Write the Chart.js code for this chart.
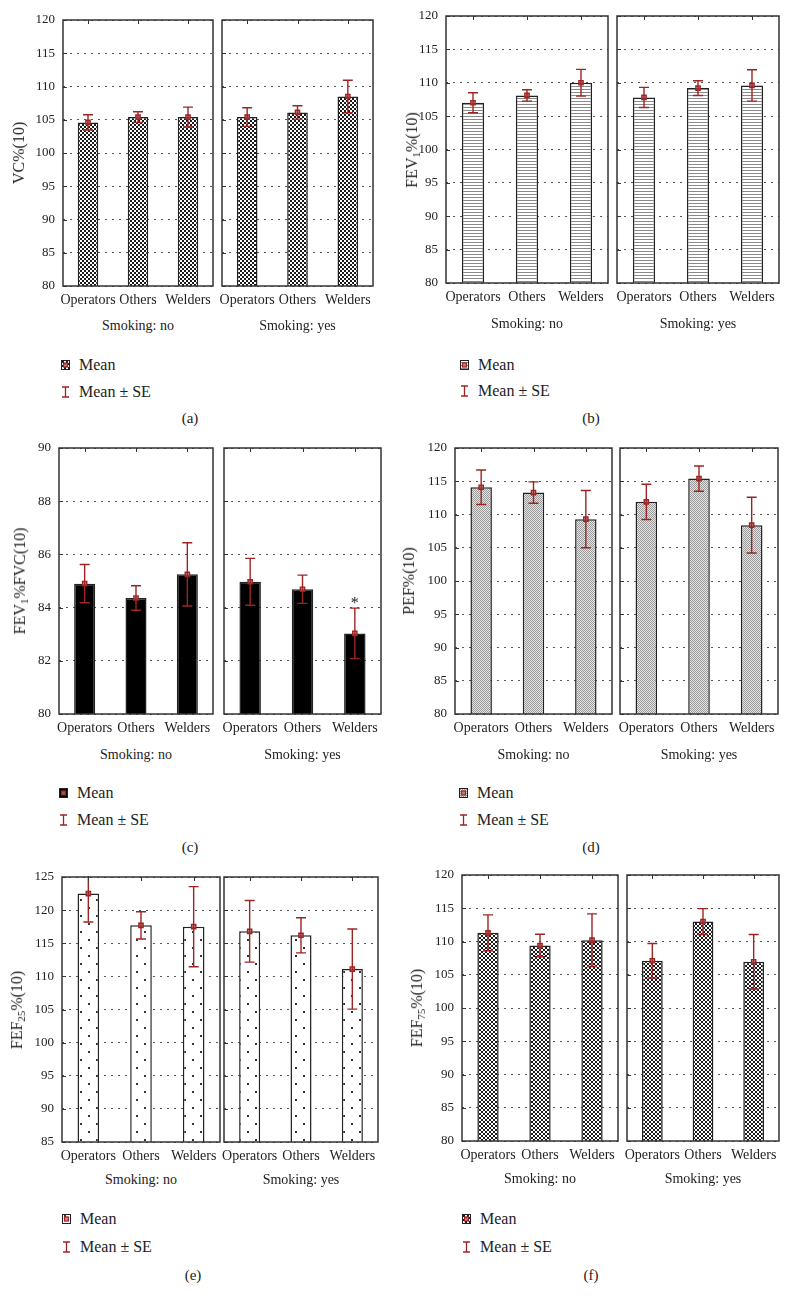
<!DOCTYPE html>
<html>
<head>
<meta charset="utf-8">
<script src="https://cdn.jsdelivr.net/npm/chart.js@4.4.1/dist/chart.umd.min.js"></script>
<style>
body { margin: 0; background: #fff; width: 793px; height: 1307px; position: relative; overflow: hidden;
       font-family: 'Liberation Serif', 'DejaVu Serif', serif; color: #222; }
canvas { position: absolute; }
.c { position: absolute; transform: translate(-50%, -50%); white-space: nowrap; font-size: 14px; }
.yt { position: absolute; transform: translate(-50%, -50%) rotate(-90deg); white-space: nowrap; font-size: 16px; }
.leg { position: absolute; transform: translateY(-50%); white-space: nowrap; font-size: 16px; }
.cap { position: absolute; transform: translate(-50%, -50%); font-size: 15px; }
sub { font-size: 0.68em; vertical-align: -0.3em; line-height: 0; }
</style>
</head>
<body>
<script>
// categories
const groups = ['Operators', 'Others', 'Welders'];

// (a) VC%
const vcNoMean = [104.6, 105.4, 105.4];
const vcNoSe = [1.15, 0.8, 1.5];
const vcYesMean = [105.4, 106.1, 108.5];
const vcYesSe = [1.4, 1.0, 2.45];

// (b) FEV1%
const fevNoMean = [107.0, 108.1, 110.0];
const fevNoSe = [1.5, 0.85, 2.0];
const fevYesMean = [107.8, 109.2, 109.6];
const fevYesSe = [1.5, 1.1, 2.35];

// (c) FEV1%FVC
const ratioNoMean = [84.9, 84.36, 85.25];
const ratioNoSe = [0.72, 0.46, 1.19];
const ratioYesMean = [84.97, 84.69, 83.03];
const ratioYesSe = [0.88, 0.53, 0.95];
const ratioYesMarks = ['', '', '*'];

// (d) PEF%
const pefNoMean = [114.1, 113.3, 109.3];
const pefNoSe = [2.6, 1.6, 4.3];
const pefYesMean = [111.9, 115.4, 108.4];
const pefYesSe = [2.65, 1.9, 4.2];

// (e) FEF25%
const fef25NoMean = [122.5, 117.7, 117.5];
const fef25NoSe = [4.3, 2.05, 6.05];
const fef25YesMean = [116.8, 116.2, 111.1];
const fef25YesSe = [4.65, 2.65, 6.05];

// (f) FEF75%
const fef75NoMean = [111.3, 109.4, 110.2];
const fef75NoSe = [2.7, 1.7, 3.95];
const fef75YesMean = [107.1, 113.0, 106.95];
const fef75YesSe = [2.6, 1.95, 4.1];

// axis ranges per panel
const yMins = [80, 80, 80, 80, 85, 80];
const yMaxes = [120, 120, 90, 120, 125, 120];
const ySteps = [5, 5, 2, 5, 5, 5];

const panelLabels = ['(a)', '(b)', '(c)', '(d)', '(e)', '(f)'];
const yTitles = ['VC%(10)', 'FEV<sub>1</sub>%(10)', 'FEV<sub>1</sub>%FVC(10)', 'PEF%(10)',
                 'FEF<sub>25</sub>%(10)', 'FEF<sub>75</sub>%(10)'];
const sideLabels = ['Smoking: no', 'Smoking: yes'];
const legendLabels = ['Mean', 'Mean \u00b1 SE'];

const RED = '#9e2424';
const FONT = "'Liberation Serif', 'DejaVu Serif', serif";
const PAD = 12, PADT = 20, XH = 28, YW = 45;

function makePattern(kind) {
    const c = document.createElement('canvas');
    const g = c.getContext('2d');
    if (kind === 'checker') {
        c.width = c.height = 4;
        g.fillStyle = '#fff'; g.fillRect(0, 0, 4, 4);
        g.fillStyle = '#1a1a1a'; g.fillRect(0, 0, 2, 2); g.fillRect(2, 2, 2, 2);
    } else if (kind === 'hlines') {
        c.width = 4; c.height = 3;
        g.fillStyle = '#fff'; g.fillRect(0, 0, 4, 3);
        g.fillStyle = '#8a8a8a'; g.fillRect(0, 0, 4, 1);
    } else if (kind === 'gray') {
        c.width = c.height = 2;
        g.fillStyle = '#e4e4e4'; g.fillRect(0, 0, 2, 2);
        g.fillStyle = '#9a9a9a'; g.fillRect(0, 0, 1, 1); g.fillRect(1, 1, 1, 1);
    } else if (kind === 'dots') {
        c.width = c.height = 16;
        g.fillStyle = '#fff'; g.fillRect(0, 0, 16, 16);
        g.fillStyle = '#333'; g.fillRect(3, 2, 2, 2); g.fillRect(11, 10, 2, 2);
    } else {
        c.width = c.height = 2;
        g.fillStyle = '#000'; g.fillRect(0, 0, 2, 2);
    }
    return g.createPattern(c, 'repeat');
}

const panels = [
    { fill: 'checker', top: 20, bottom: 286, L: [63, 213], R: [222, 373], yTitleX: 19,
      no: [vcNoMean, vcNoSe], yes: [vcYesMean, vcYesSe],
      smokeY: 326, legX: 61, legY: [365, 392], capX: 190, capY: 418 },
    { fill: 'hlines', top: 16, bottom: 283, L: [446, 608], R: [617, 779], yTitleX: 412,
      no: [fevNoMean, fevNoSe], yes: [fevYesMean, fevYesSe],
      smokeY: 324, legX: 460, legY: [365, 391], capX: 591, capY: 418 },
    { fill: 'black', top: 448, bottom: 714, L: [59, 213], R: [224, 381], yTitleX: 20,
      no: [ratioNoMean, ratioNoSe], yes: [ratioYesMean, ratioYesSe, ratioYesMarks],
      smokeY: 755, legX: 59, legY: [793, 820], capX: 190, capY: 847 },
    { fill: 'gray', top: 448, bottom: 714, L: [455, 612], R: [620, 778], yTitleX: 409,
      no: [pefNoMean, pefNoSe], yes: [pefYesMean, pefYesSe],
      smokeY: 755, legX: 459, legY: [793, 820], capX: 591, capY: 847 },
    { fill: 'dots', top: 877, bottom: 1142, L: [62, 220], R: [224, 378], yTitleX: 17,
      no: [fef25NoMean, fef25NoSe], yes: [fef25YesMean, fef25YesSe],
      smokeY: 1180, legX: 62, legY: [1219, 1247], capX: 193, capY: 1275 },
    { fill: 'checker', top: 875, bottom: 1141, L: [462, 618], R: [627, 779], yTitleX: 417,
      no: [fef75NoMean, fef75NoSe], yes: [fef75YesMean, fef75YesSe],
      smokeY: 1179, legX: 462, legY: [1219, 1247], capX: 591, capY: 1275 }
];

function errorPlugin(mean, se, marks) {
    return {
        id: 'errorBars',
        afterDatasetsDraw(chart) {
            const { ctx, chartArea: a, scales: { x, y } } = chart;
            ctx.save();
            ctx.beginPath();
            ctx.rect(a.left, a.top - 1, a.width, a.height + 1);
            ctx.clip();
            ctx.strokeStyle = RED;
            ctx.lineWidth = 1.4;
            mean.forEach((m, i) => {
                const px = x.getPixelForValue(i);
                const hi = y.getPixelForValue(m + se[i]);
                const lo = y.getPixelForValue(m - se[i]);
                ctx.beginPath();
                ctx.moveTo(px, hi); ctx.lineTo(px, lo);
                ctx.moveTo(px - 5, hi); ctx.lineTo(px + 5, hi);
                ctx.moveTo(px - 5, lo); ctx.lineTo(px + 5, lo);
                ctx.stroke();
                if (marks && marks[i]) {
                    ctx.fillStyle = '#222';
                    ctx.font = '16px ' + FONT;
                    ctx.textAlign = 'center';
                    ctx.textBaseline = 'middle';
                    ctx.fillText(marks[i], px, hi - 4);
                }
            });
            ctx.restore();

            // frame and inward ticks
            ctx.save();
            ctx.strokeStyle = '#333';
            ctx.lineWidth = 1.5;
            ctx.strokeRect(a.left, a.top, a.width, a.height);
            ctx.lineWidth = 1;
            ctx.beginPath();
            mean.forEach((m, i) => {
                const px = Math.round(x.getPixelForValue(i)) + 0.5;
                ctx.moveTo(px, a.top); ctx.lineTo(px, a.top + 4);
            });
            y.ticks.forEach(t => {
                const py = Math.round(y.getPixelForValue(t.value)) + 0.5;
                ctx.moveTo(a.left, py); ctx.lineTo(a.left + 4, py);
            });
            ctx.stroke();
            ctx.restore();
        }
    };
}

function makeChart(pi, side) {
    const p = panels[pi];
    const box = side === 0 ? p.L : p.R;
    const set = side === 0 ? p.no : p.yes;
    const yW = side === 0 ? YW : 0;
    const w = PAD + yW + (box[1] - box[0]) + PAD;
    const h = PADT + (p.bottom - p.top) + XH;
    const cv = document.createElement('canvas');
    cv.width = w; cv.height = h;
    cv.style.left = (box[0] - yW - PAD) + 'px';
    cv.style.top = (p.top - PADT) + 'px';
    cv.style.width = w + 'px';
    cv.style.height = h + 'px';
    document.body.appendChild(cv);

    new Chart(cv, {
        type: 'bar',
        data: {
            labels: groups,
            datasets: [{
                type: 'line',
                data: set[0],
                showLine: false,
                pointStyle: 'rect',
                pointRadius: 3,
                pointBorderWidth: 1.4,
                pointBorderColor: RED,
                pointBackgroundColor: 'rgba(190,110,110,0.7)',
                order: 0
            }, {
                type: 'bar',
                data: set[0],
                backgroundColor: makePattern(p.fill),
                borderColor: '#222',
                borderWidth: 1.5,
                borderSkipped: 'start',
                categoryPercentage: 1,
                barPercentage: 0.41,
                order: 1
            }]
        },
        options: {
            responsive: false,
            animation: false,
            events: [],
            layout: { padding: { top: PADT, left: PAD, right: PAD, bottom: 0 } },
            plugins: { legend: { display: false }, tooltip: { enabled: false } },
            scales: {
                x: {
                    grid: { display: false, drawTicks: false },
                    border: { display: false },
                    ticks: { padding: 6, color: '#222', maxRotation: 0, autoSkip: false,
                             font: { family: FONT, size: 14 } },
                    afterFit: s => { s.height = XH; }
                },
                y: {
                    min: yMins[pi],
                    max: yMaxes[pi],
                    grid: { color: '#555', lineWidth: 1, drawTicks: false },
                    border: { display: false, dash: [2, 5] },
                    ticks: { display: side === 0, stepSize: ySteps[pi], padding: 8, color: '#222',
                             font: { family: FONT, size: 13 } },
                    afterFit: s => { s.width = yW; }
                }
            }
        },
        plugins: [errorPlugin(set[0], set[1], set[2])]
    });
}

function addText(cls, html, x, y) {
    const d = document.createElement('div');
    d.className = cls;
    d.innerHTML = html;
    d.style.left = x + 'px';
    d.style.top = y + 'px';
    document.body.appendChild(d);
}

function legendIcons(p) {
    const cv = document.createElement('canvas');
    cv.width = 12; cv.height = 40;
    cv.style.left = (p.legX - 1) + 'px';
    cv.style.top = (p.legY[0] - 6) + 'px';
    document.body.appendChild(cv);
    const g = cv.getContext('2d');
    const dy = p.legY[1] - p.legY[0];
    g.fillStyle = makePattern(p.fill);
    g.fillRect(1.5, 1.5, 8, 9);
    g.strokeStyle = '#222'; g.lineWidth = 1;
    g.strokeRect(1.5, 1.5, 8, 9);
    g.strokeStyle = RED; g.lineWidth = 1.2;
    g.fillStyle = 'rgba(190,110,110,0.8)';
    g.fillRect(3.5, 4, 4, 4);
    g.strokeRect(3.5, 4, 4, 4);
    g.beginPath();
    g.lineWidth = 1.3;
    const y0 = 6 + dy - 5, y1 = 6 + dy + 5;
    g.moveTo(2, y0); g.lineTo(9, y0);
    g.moveTo(5.5, y0); g.lineTo(5.5, y1);
    g.moveTo(2, y1); g.lineTo(9, y1);
    g.stroke();
}

panels.forEach((p, i) => {
    makeChart(i, 0);
    makeChart(i, 1);
    addText('yt', yTitles[i], p.yTitleX, (p.top + p.bottom) / 2);
    addText('c', sideLabels[0], (p.L[0] + p.L[1]) / 2, p.smokeY);
    addText('c', sideLabels[1], (p.R[0] + p.R[1]) / 2, p.smokeY);
    legendIcons(p);
    addText('leg', legendLabels[0], p.legX + 18, p.legY[0]);
    addText('leg', legendLabels[1], p.legX + 18, p.legY[1]);
    addText('cap', panelLabels[i], p.capX, p.capY);
});
</script>
</body>
</html>
